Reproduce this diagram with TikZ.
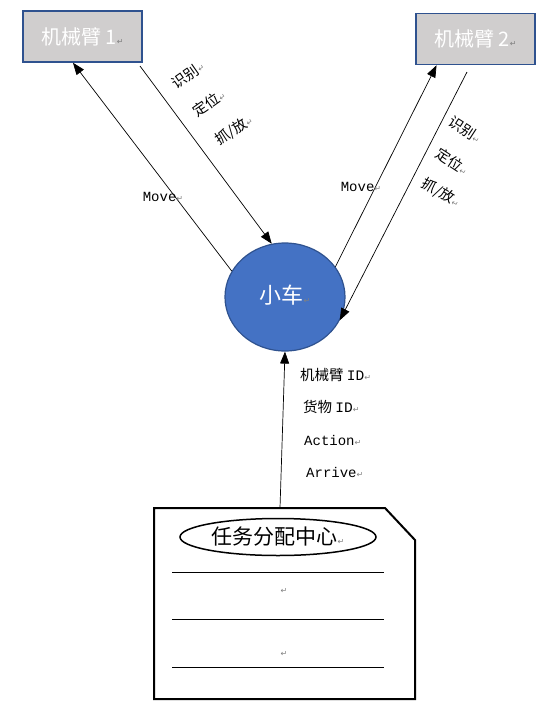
\documentclass[tikz,border=0pt]{standalone}
\usepackage{fontspec}
\setmainfont{Noto Sans CJK SC}
\setmonofont{Liberation Mono}
\newfontfamily\symfont{DejaVu Sans}
\usetikzlibrary{arrows.meta,shapes.geometric}
\definecolor{armgray}{HTML}{D0CECE}
\definecolor{carblue}{HTML}{4472C4}
\definecolor{edgeblue}{HTML}{2F528F}
\newcommand{\rmk}{{\symfont\fontsize{8}{8}\selectfont\color{gray}↵}}
\tikzset{
  armbox/.style={draw=edgeblue, line width=1.5pt, fill=armgray, minimum width=119pt, minimum height=51pt, text=white, font=\fontsize{20}{20}\selectfont},
  msg/.style={-{Triangle[length=12pt,width=9pt]}, line width=0.7pt},
  lbl/.style={font=\fontsize{14.5}{14.5}\selectfont, inner sep=0pt},
  mvlbl/.style={font=\ttfamily\fontsize{14}{14}\selectfont, inner sep=0pt}
}
\begin{document}
\begin{tikzpicture}[x=1pt,y=-1pt]
  \useasboundingbox (0,0) rectangle (558,724);

  \node [armbox] (arm1) at (82.5,36.5) {机械臂 1\rmk};
  \node [armbox] (arm2) at (475.5,39) {机械臂 2\rmk};
  \node [ellipse, draw=edgeblue, line width=1.2pt, fill=carblue, minimum width=120pt, minimum height=108pt, inner sep=0pt, text=white, font=\fontsize{22}{22}\selectfont] (car) at (285,297) {\raisebox{6pt}{小车\rmk}};

  \coordinate (a1out) at (140,66);
  \coordinate (a2out) at (467,72);
  \coordinate (doctop) at (280,508);

  \draw [msg] (car.154) -- (arm1.250);
  \draw [msg] (a1out) -- (car.104);
  \draw [msg] (car.31) -- (arm2.214);
  \draw [msg] (a2out) -- (car.337);
  \draw [msg] (doctop) -- (car.south);

  \node [lbl, rotate=35] (see1) at (188,75) {识别\rmk};
  \node [lbl, rotate=35] (pos1) at (209,103) {定位\rmk};
  \node [lbl, rotate=33] (grab1) at (234,130) {抓/放\rmk};
  \node [mvlbl] (move1) at (163,197) {Move\rmk};

  \node [lbl, rotate=-33] (see2) at (465,130) {识别\rmk};
  \node [lbl, rotate=-33] (pos2) at (452,162) {定位\rmk};
  \node [lbl, rotate=-30] (grab2) at (441,193) {抓/放\rmk};
  \node [mvlbl] (move2) at (361,187) {Move\rmk};

  \node [lbl, anchor=west] (armid) at (300,375) {机械臂 {\ttfamily ID}\rmk};
  \node [lbl, anchor=west] (goodsid) at (303,407) {货物 {\ttfamily ID}\rmk};
  \node [lbl, anchor=west, font=\ttfamily\fontsize{14}{14}\selectfont] (act) at (304,440) {Action\rmk};
  \node [lbl, anchor=west, font=\ttfamily\fontsize{14}{14}\selectfont] (arr) at (306,472) {Arrive\rmk};

  \draw [line width=2pt] (154,508) -- (385,508) -- (415,540) -- (415,699) -- (154,699) -- cycle;
  \node [ellipse, draw, line width=1.5pt, minimum width=196pt, minimum height=37pt, inner sep=0pt, font=\fontsize{21}{21}\selectfont] (hub) at (278,537) {任务分配中心\rmk};
  \foreach \y in {572,619,667}
    \draw [line width=0.8pt] (172,\y) -- (384,\y);
  \node (mark1) at (284,591) {\rmk};
  \node (mark2) at (284,654) {\rmk};
\end{tikzpicture}
\end{document}
